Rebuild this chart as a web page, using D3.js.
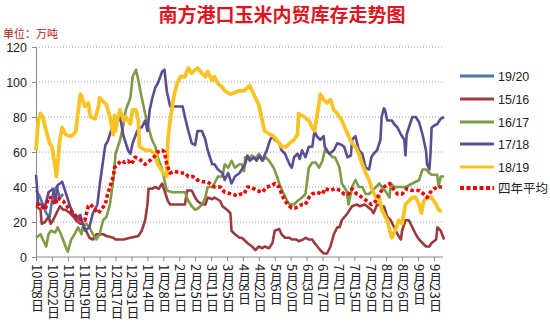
<!DOCTYPE html>
<html><head><meta charset="utf-8">
<script src="https://cdn.jsdelivr.net/npm/d3@7"></script>
<style>body{margin:0;background:#fff}svg{display:block}</style>
</head><body>
<svg id="c" width="550" height="323"></svg>
<script>
// ---- data (day offset from 10月8日, value in 万吨) ----
const titleText = "南方港口玉米内贸库存走势图";
const unitText = "单位：万吨";
const seriesNames = ["19/20","15/16","16/17","17/18","18/19","四年平均"];
const tickLabels = ["10月8日","10月22日","11月5日","11月19日","12月3日","12月17日","12月31日","1月14日","1月28日","2月11日","2月25日","3月11日","3月25日","4月8日","4月22日","5月6日","5月20日","6月3日","6月17日","7月1日","7月15日","7月29日","8月12日","8月26日","9月9日","9月23日"];
const tickDays = tickLabels.map((d,i)=>i*14);
const yTicks = [0,20,40,60,80,100,120];

const s1920 = [[0,38],[3,35],[6,30],[9,25],[12,23],[15,36],[18,40],[21,34],[24,36]];
const s1516 = [[0,29],[4,27],[5,19],[8,20],[11,23],[13,19],[15,21],[18,25],[21,29],[24,27],[26,27],[30,25],[33,23],[35,21],[39,19],[41,19],[44,15],[47,11],[50,10],[53,13],[56,13],[59,13],[62,12],[68,11],[70,10],[77,10],[83,11],[90,12],[93,15],[96,21],[98,30],[99,39],[102,39],[105,40],[108,39],[111,42],[113,38],[116,32],[118,30],[131,30],[133,38],[137,38],[140,34],[142,32],[146,30],[149,30],[151,34],[155,33],[157,34],[162,32],[164,29],[168,27],[171,25],[172,15],[175,13],[179,11],[181,11],[186,8],[190,6],[193,4],[196,6],[199,5],[201,6],[205,5],[208,8],[210,15],[214,16],[216,13],[219,11],[223,11],[225,10],[229,10],[231,9],[235,10],[237,11],[240,10],[243,10],[245,8],[250,4],[253,2],[256,2],[259,6],[262,13],[265,17],[267,17],[269,21],[274,25],[278,29],[282,30],[285,29],[289,30],[291,29],[295,27],[297,25],[300,30],[304,29],[306,29],[309,23],[312,21],[315,17],[318,13],[321,10],[322,15],[325,21],[328,21],[331,17],[334,13],[337,10],[340,8],[343,6],[346,6],[348,8],[352,10],[353,17],[356,15],[359,10]];
const s1617 = [[0,11],[4,13],[6,10],[9,6],[11,13],[13,15],[17,14],[19,17],[22,13],[26,6],[28,3],[31,10],[34,13],[37,17],[40,13],[41,17],[44,19],[47,17],[50,13],[53,10],[56,13],[59,21],[62,23],[65,30],[68,44],[70,59],[74,67],[77,76],[79,84],[83,91],[85,103],[88,107],[90,101],[93,91],[96,82],[99,74],[102,67],[105,63],[107,57],[111,50],[113,44],[115,38],[120,37],[131,37],[134,32],[137,29],[140,27],[143,28],[146,30],[149,34],[151,40],[155,40],[157,42],[160,46],[164,46],[166,53],[169,51],[172,55],[175,51],[179,53],[181,53],[183,49],[184,57],[187,56],[190,58],[193,56],[196,59],[199,55],[202,57],[205,55],[209,51],[212,46],[215,40],[218,36],[221,32],[223,30],[227,30],[230,32],[234,34],[237,36],[240,51],[243,54],[246,54],[249,51],[252,55],[254,61],[258,59],[261,57],[263,57],[267,51],[269,42],[273,38],[275,30],[278,40],[281,44],[284,40],[287,40],[290,36],[293,36],[296,38],[299,40],[302,42],[304,40],[307,38],[311,34],[312,42],[315,40],[319,40],[325,40],[331,42],[337,44],[340,50],[343,50],[346,48],[348,47],[353,47],[354,40],[356,46],[359,46]];
const s1718 = [[0,47],[2,30],[5,30],[8,29],[11,37],[15,39],[17,31],[19,41],[23,43],[26,37],[30,29],[33,24],[36,22],[39,24],[43,15],[47,17],[50,25],[54,30],[56,41],[59,55],[61,64],[63,66],[67,74],[69,72],[72,78],[74,80],[77,69],[81,61],[83,59],[85,65],[89,72],[91,74],[93,74],[96,78],[98,72],[100,84],[102,90],[105,97],[107,99],[111,106],[113,107],[115,95],[118,86],[122,86],[129,86],[131,80],[134,72],[137,65],[140,64],[142,72],[146,72],[149,67],[151,61],[155,53],[157,53],[160,50],[164,48],[166,44],[169,48],[172,42],[175,46],[179,48],[181,50],[184,53],[186,58],[188,55],[192,57],[194,55],[197,58],[199,55],[203,61],[206,67],[208,69],[210,67],[214,65],[216,61],[219,59],[223,53],[225,51],[227,57],[230,59],[232,56],[234,61],[237,57],[240,63],[243,63],[245,72],[247,69],[250,67],[253,69],[254,63],[258,59],[262,61],[265,65],[269,64],[271,63],[274,57],[277,58],[278,67],[281,69],[284,61],[287,59],[290,51],[293,50],[295,57],[297,59],[300,61],[303,67],[304,80],[306,85],[307,84],[309,78],[313,78],[315,76],[318,74],[321,70],[324,67],[325,58],[326,70],[328,74],[331,80],[334,80],[337,77],[340,70],[343,61],[344,53],[346,50],[347,59],[348,74],[350,75],[353,76],[356,79],[359,80]];
const s1819 = [[0,61],[2,78],[4,82],[6,80],[9,72],[12,65],[14,63],[15,59],[17,51],[18,46],[19,53],[21,67],[23,74],[26,70],[30,69],[33,70],[35,72],[39,93],[40,92],[43,86],[46,88],[48,80],[52,79],[55,86],[56,91],[59,89],[62,87],[65,80],[68,70],[69,81],[70,72],[72,80],[74,84],[77,78],[79,80],[83,76],[85,84],[88,84],[90,78],[91,63],[96,61],[100,61],[105,59],[107,53],[112,48],[115,46],[116,67],[118,78],[121,91],[124,99],[127,103],[131,103],[134,108],[137,105],[140,107],[142,108],[146,105],[149,103],[151,106],[155,101],[157,103],[160,99],[164,97],[166,95],[171,93],[175,94],[179,95],[183,95],[188,98],[190,95],[193,91],[196,87],[199,78],[201,72],[206,70],[209,69],[214,65],[216,63],[220,63],[223,65],[227,67],[230,70],[231,82],[236,80],[240,78],[243,74],[245,72],[249,88],[250,93],[253,90],[256,88],[259,90],[262,84],[265,82],[269,78],[273,72],[275,69],[278,65],[281,63],[284,59],[287,53],[290,48],[293,44],[296,38],[299,34],[302,34],[304,27],[309,21],[312,13],[313,11],[317,17],[319,21],[322,19],[325,30],[328,32],[331,34],[334,34],[337,30],[339,25],[341,32],[344,34],[348,34],[352,30],[354,27],[357,26]];
const sAvg = [[0,30],[3,30],[8,27],[11,34],[13,34],[17,30],[19,34],[24,32],[26,30],[30,27],[33,25],[37,22],[40,21],[43,21],[46,29],[48,30],[52,27],[55,25],[57,27],[61,30],[63,36],[66,42],[68,46],[69,51],[72,53],[75,55],[78,54],[81,55],[84,53],[87,57],[91,56],[96,53],[100,55],[105,58],[107,60],[111,61],[113,60],[115,53],[118,48],[122,49],[127,48],[131,48],[134,46],[138,46],[142,44],[147,43],[150,43],[153,42],[157,40],[162,40],[166,37],[172,36],[177,35],[180,36],[183,36],[186,40],[189,40],[194,38],[199,37],[203,40],[208,41],[210,42],[214,40],[216,36],[219,32],[223,29],[225,28],[228,28],[231,29],[234,30],[237,30],[240,34],[243,36],[247,37],[252,36],[254,39],[259,38],[263,39],[268,38],[271,36],[275,36],[278,39],[282,36],[287,34],[291,32],[295,30],[299,32],[302,36],[306,40],[311,42],[313,40],[318,36],[322,36],[326,39],[331,38],[337,38],[341,36],[344,34],[348,38],[353,40],[357,40]];

const seriesData = [s1920, s1516, s1617, s1718, s1819, sAvg];
const seriesColors = ["#4F77AA","#9B3B3E","#7E9B45","#5E4C93","#F7C325","#F00000"];
const seriesWidths = [2.6,2.6,2.6,2.6,3.8,3.6];
const seriesDash = [null,null,null,null,null,"3.5,2.5"];

// ---- chart ----
const svg = d3.select("#c");
const x = d3.scaleLinear().domain([0,358]).range([36,443]);
const y = d3.scaleLinear().domain([0,120]).range([257,47]);

svg.append("text").attr("x",282).attr("y",22).attr("text-anchor","middle")
  .attr("fill","#E0141E").attr("font-size",19).attr("font-weight","bold")
  .attr("font-family","'Noto Sans CJK SC',sans-serif").text(titleText);
svg.append("text").attr("x",3).attr("y",38).attr("fill","#B22222")
  .attr("font-size",11).attr("font-family","'Noto Sans CJK SC',sans-serif").text(unitText);

// gridlines
svg.append("g").selectAll("line").data(yTicks.filter(d=>d>0)).join("line")
  .attr("x1",36).attr("x2",443).attr("y1",d=>y(d)).attr("y2",d=>y(d))
  .attr("stroke","#a0a0a0").attr("stroke-width",1).attr("stroke-dasharray","1,2");

// y axis
const ya = svg.append("g").attr("transform","translate(36,0)")
  .call(d3.axisLeft(y).tickValues(yTicks).tickSize(4).tickFormat(d3.format("d")));
ya.select(".domain").attr("stroke","#888");
ya.selectAll(".tick line").attr("stroke","#888");
ya.selectAll("text").attr("font-size",12.5).attr("fill","#222")
  .attr("font-family","'Liberation Sans',Arial,sans-serif").attr("x",-9);

// x axis
const xa = svg.append("g").attr("transform","translate(0,257)")
  .call(d3.axisBottom(x).tickValues(tickDays).tickSize(4).tickFormat((d,i)=>tickLabels[i]));
xa.select(".domain").attr("stroke","#888").attr("d","M36,0H443");
xa.selectAll(".tick line").attr("stroke","#888");
xa.selectAll(".tick text")
  .attr("x",1).attr("y",7).attr("dy",null)
  .attr("text-anchor","start")
  .style("writing-mode","vertical-rl").style("text-orientation","mixed")
  .attr("font-size",13).attr("fill","#222")
  .attr("font-family","'Noto Sans CJK SC',sans-serif");

// lines
const line = d3.line().x(d=>x(d[0])).y(d=>y(d[1]));
const lg = svg.append("g");
seriesData.forEach((s,i)=>{
  lg.append("path").datum(s).attr("d",line).attr("fill","none")
    .attr("stroke",seriesColors[i]).attr("stroke-width",seriesWidths[i])
    .attr("stroke-linejoin","round")
    .attr("stroke-dasharray",seriesDash[i]);
});

// legend
const leg = svg.append("g");
const legY = [76,99,122,144,167,188];
seriesNames.forEach((n,i)=>{
  leg.append("line").attr("x1",460).attr("x2",494).attr("y1",legY[i]).attr("y2",legY[i])
    .attr("stroke",seriesColors[i]).attr("stroke-width",i===5?4:3)
    .attr("stroke-dasharray",i===5?"4,2.5":null);
  leg.append("text").attr("x",498).attr("y",legY[i]).attr("dy","0.36em")
    .attr("font-size",12.5).attr("fill","#222")
    .attr("font-family","'Liberation Sans','Noto Sans CJK SC',sans-serif").text(n);
});
</script>
</body></html>
